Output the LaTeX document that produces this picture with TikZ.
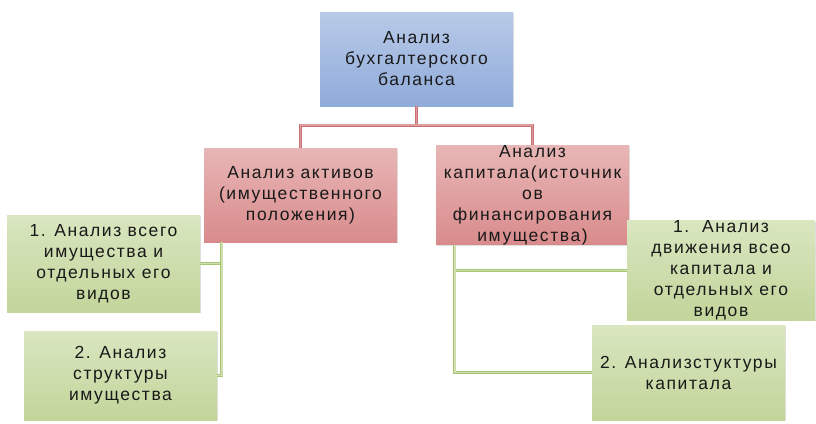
\documentclass[tikz,border=0pt]{standalone}
\usepackage{fontspec}
\setmainfont{Liberation Sans}[LetterSpace=9]
\usetikzlibrary{positioning, shadows}

\definecolor{blueT}{HTML}{B9CAE8}
\definecolor{blueB}{HTML}{8FABDA}
\definecolor{redT}{HTML}{E8B6B6}
\definecolor{redB}{HTML}{D98B8C}
\definecolor{greenT}{HTML}{D9E6C0}
\definecolor{greenB}{HTML}{C2D59A}
\definecolor{redL}{HTML}{C96F72}
\definecolor{redD}{HTML}{DE9C9E}
\definecolor{greenL}{HTML}{A9C477}
\definecolor{greenD}{HTML}{CFE0AE}

\begin{document}
\begin{tikzpicture}[
  x=1pt, y=-1pt,
  block/.style={rectangle, inner sep=0pt, minimum width=193pt, minimum height=94pt,
    align=center, text=black!90, font=\fontsize{17.5}{21}\selectfont,
    drop shadow={shadow xshift=1.2pt, shadow yshift=-1.2pt, opacity=0.25}},
  head/.style={block, top color=blueT, bottom color=blueB},
  part/.style={block, top color=redT, bottom color=redB},
  item/.style={block, top color=greenT, bottom color=greenB},
  rlink/.style={draw=redL, double=redD, line width=0.6pt, double distance=1.8pt},
  glink/.style={draw=greenL, double=greenD, line width=0.6pt, double distance=1.8pt}
]
\useasboundingbox (0,0) rectangle (816,423);

% levels
\node[head] (top) at (416.5,59) {Анализ\\бухгалтерского\\баланса};
\node[part] (act) at (300.5,195) {Анализ активов\\(имущественного\\положения)};
\node[part] (cap) at (532.5,195) {Анализ\\капитала(источник\\ов\\финансирования\\имущества)};

\node[item, minimum height=97pt] (a1) at (103.5,263.5) {1. Анализ всего\\имущества и\\отдельных его\\видов};
\node[item, minimum height=89pt] (a2) at (120.5,375.5) {2. Анализ\\структуры\\имущества};
\node[item, minimum width=188pt, minimum height=95pt] (c1) at (721,270.5) {1.\ \ Анализ\\движения всео\\капитала и\\отдельных его\\видов};
\node[item, minimum height=95pt] (c2) at (688.5,372.5) {2. Анализстуктуры\\капитала};

\coordinate (tj) at (416.5,125);

\draw[rlink] (top.south) -- (tj) -| (act.north);
\draw[rlink] (tj) -| (cap.north);

\draw[glink] ([xshift=18pt]act.south west) |- (a1.east);
\draw[glink] ([xshift=18pt]act.south west) |- (a2.east);
\draw[glink] ([xshift=19pt]cap.south west) |- (c1.west);
\draw[glink] ([xshift=19pt]cap.south west) |- (c2.west);
\end{tikzpicture}
\end{document}
